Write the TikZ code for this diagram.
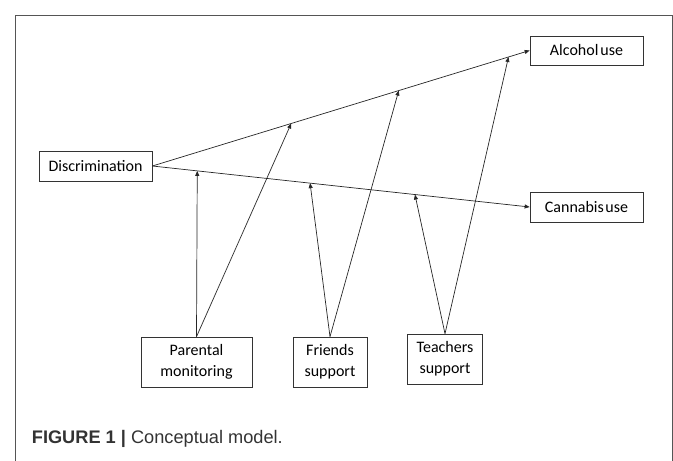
\documentclass[tikz,border=0pt]{standalone}
\usepackage{fontspec}
\setmainfont{Carlito}
\newfontfamily\capfont{Liberation Sans}
\usetikzlibrary{arrows.meta,calc}
\definecolor{framegray}{HTML}{555555}
\definecolor{captext}{HTML}{333333}
\begin{document}
\begin{tikzpicture}[x=1pt,y=-1pt,
  box/.style={draw=black!80,line width=0.7pt,fill=white,inner sep=0pt,align=center,font=\fontsize{16}{21}\selectfont},
  conn/.style={draw=black!85,line width=0.7pt,-{Triangle[length=5pt,width=4pt]}}]
\useasboundingbox (0,0) rectangle (673,461);
% frame
\draw[framegray,line width=1pt] (15,461) -- (15,15) -- (672,15) -- (672,461);
% nodes
\node[box,minimum width=113pt,minimum height=30pt] (dis) at (95.5,166) {Discrimination};
\node[box,minimum width=113pt,minimum height=29pt] (alc) at (586.5,50.5) {Alcohol\hspace{2pt}use};
\node[box,minimum width=113pt,minimum height=30pt] (can) at (586.5,207) {Cannabis\hspace{1.5pt}use};
\node[box,minimum width=111pt,minimum height=50pt] (par) at (196.5,362) {Parental\\monitoring};
\node[box,minimum width=74pt,minimum height=50pt] (fr) at (330,362) {Friends\\support};
\node[box,minimum width=75pt,minimum height=50pt] (te) at (445,359) {Teachers\\support};
% main paths
\draw[conn] (dis.east) -- (alc.west);
\draw[conn] (dis.east) -- (can.west);
% points on main paths
\coordinate (u1) at ($(dis.east)!0.368!(alc.west)$);
\coordinate (u2) at ($(dis.east)!0.653!(alc.west)$);
\coordinate (u3) at ($(dis.east)!0.944!(alc.west)$);
\coordinate (l1) at ($(dis.east)!0.119!(can.west)$);
\coordinate (l2) at ($(dis.east)!0.418!(can.west)$);
\coordinate (l3) at ($(dis.east)!0.696!(can.west)$);
% moderator arrows
\draw[conn] (par.north) -- (l1);
\draw[conn] (par.north) -- (u1);
\draw[conn] (fr.north) -- (l2);
\draw[conn] (fr.north) -- (u2);
\draw[conn] (te.north) -- (l3);
\draw[conn] (te.north) -- (u3);
% caption
\node[anchor=base west,inner sep=0pt,text=captext,font=\capfont\fontsize{18.2}{21}\selectfont] (cap) at (31.7,443) {{\bfseries FIGURE 1 |} Conceptual model.};
\end{tikzpicture}
\end{document}
